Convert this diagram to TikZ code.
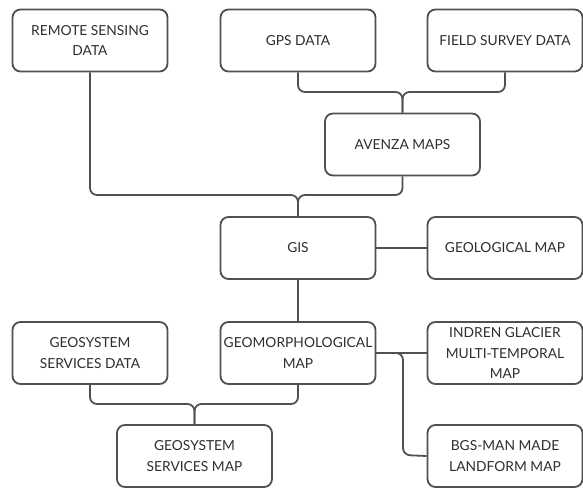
\documentclass[tikz,border=0pt]{standalone}
\usepackage{fontspec}
\setmainfont{Lato}
\usepackage{tikz}
\definecolor{boxline}{HTML}{505050}
\definecolor{boxtext}{HTML}{2E2E2E}

\tikzset{
  box/.style={draw=boxline, line width=1.8pt, rounded corners=8pt,
    minimum width=155pt, minimum height=62pt, align=center,
    text=boxtext, font=\fontsize{13.8}{20.5}\selectfont, inner sep=2pt},
  link/.style={draw=boxline, line width=1.8pt, rounded corners=7pt}
}

\begin{document}
\begin{tikzpicture}[x=1pt, y=-1pt]
        \useasboundingbox (0,0) rectangle (583,488);

        \node[box](rs)  at ( 90.0,  40.5) {REMOTE SENSING\\DATA};
        \node[box](gps) at (298.0,  40.5) {GPS DATA};
        \node[box](fs)  at (505.0,  40.5) {FIELD SURVEY DATA};
        \node[box](av)  at (402.5, 144.5) {AVENZA MAPS};
        \node[box](gis) at (298.0, 248.0) {GIS};
        \node[box](geo) at (505.0, 248.0) {GEOLOGICAL MAP};
        \node[box](gsd) at ( 90.0, 353.0) {GEOSYSTEM\\SERVICES DATA};
        \node[box](gm)  at (298.0, 353.0) {GEOMORPHOLOGICAL\\MAP};
        \node[box](ig)  at (505.0, 353.0) {INDREN GLACIER\\MULTI-TEMPORAL\\MAP};
        \node[box](gsm) at (194.5, 456.0) {GEOSYSTEM\\SERVICES MAP};
        \node[box](bgs) at (505.0, 456.0) {BGS-MAN MADE\\LANDFORM MAP};

        % joints
        \coordinate (j1) at (402.5,  92);
        \coordinate (j2) at (298.0, 195);
        \coordinate (j3) at (194.5, 404);
        \coordinate (j4) at (403.0, 455);

          \draw[link] (gps.south) |- (j1) -- (av.north);
          \draw[link] (fs.south)  |- (j1) -- (av.north);
          \draw[link] (rs.south)  |- (j2) -- (gis.north);
          \draw[link] (av.south)  |- (j2) -- (gis.north);
          \draw[link] (gis.east) -- (geo.west);
          \draw[link] (gis.south) -- (gm.north);
          \draw[link] (gm.east) -- (ig.west);
          \draw[link] (gm.east) -| (j4) -- (bgs.west);
          \draw[link] (gsd.south) |- (j3) -- (gsm.north);
          \draw[link] (gm.south)  |- (j3) -- (gsm.north);

      \end{tikzpicture}
\end{document}
